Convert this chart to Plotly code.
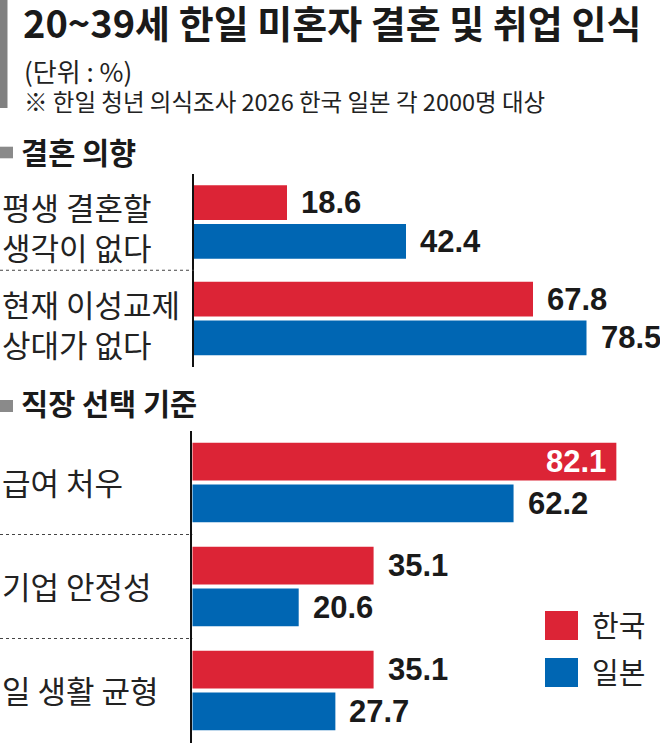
import plotly.graph_objects as go

# ---------------- data ----------------
title_text = "20~39세 한일 미혼자 결혼 및 취업 인식"
unit_text = "(단위 : %)"
note_text = "※ 한일 청년 의식조사 2026 한국 일본 각 2000명 대상"
section_titles = ["결혼 의향", "직장 선택 기준"]
series_names = ["한국", "일본"]

marriage_cats = ["평생 결혼할\n생각이 없다", "현재 이성교제\n상대가 없다"]
marriage_korea = [18.6, 67.8]
marriage_japan = [42.4, 78.5]

job_cats = ["급여 처우", "기업 안정성", "일 생활 균형"]
job_korea = [82.1, 35.1, 35.1]
job_japan = [62.2, 20.6, 27.7]

# ---------------- style ----------------
W, H = 660, 743
COLORS = ["#DC2436", "#0066B3"]
KFONT = "Noto Sans CJK KR"
NFONT = "Liberation Sans, Arial, sans-serif"
BARGAP = 0.197
BARGROUPGAP = 0.1


def px(v):
    return v / W


def py(v):
    return 1 - v / H


panels = [
    dict(cats=marriage_cats, data=[marriage_korea, marriage_japan], xa="x", ya="y",
         x0=194.0, top=173.75, bottom=366.75, scale=5.0,
         header=section_titles[0], header_y=151.0, sq=(146.7, 158.3)),
    dict(cats=job_cats, data=[job_korea, job_japan], xa="x2", ya="y2",
         x0=192.3, top=430.5, bottom=742.5, scale=5.165,
         header=section_titles[1], header_y=402.0, sq=(400.0, 412.0)),
]

fig = go.Figure()
annotations = []
shapes = []
layout_axes = {}

for pi, p in enumerate(panels):
    cats = p["cats"]
    ncat = len(cats)
    ntr = len(p["data"])
    xr = (W - p["x0"]) / p["scale"]
    for ti, vals in enumerate(p["data"]):
        fig.add_trace(go.Bar(
            x=vals, y=cats, orientation="h", name=series_names[ti],
            marker=dict(color=COLORS[ti], line=dict(width=0)),
            xaxis=p["xa"], yaxis=p["ya"], showlegend=False, hoverinfo="skip",
        ))

    sfx = "" if pi == 0 else str(pi + 1)
    layout_axes["xaxis" + sfx] = dict(
        domain=[px(p["x0"]), 1], range=[0, xr], visible=False,
        anchor=p["ya"], fixedrange=True)
    layout_axes["yaxis" + sfx] = dict(
        domain=[py(p["bottom"]), py(p["top"])], type="category",
        categoryorder="array", categoryarray=cats,
        range=[ncat - 0.5, -0.5], showline=True, linecolor="#111111",
        linewidth=1.5, showticklabels=False, showgrid=False, zeroline=False,
        ticks="", anchor=p["xa"], fixedrange=True)

    # value labels
    slot = (p["bottom"] - p["top"]) / ncat
    per_trace = slot * (1 - BARGAP) / ntr
    for ti, vals in enumerate(p["data"]):
        yshift = -(ti - (ntr - 1) / 2) * per_trace
        for cat, v in zip(cats, vals):
            inside = v / xr > 0.88
            annotations.append(dict(
                x=v, y=cat, xref=p["xa"], yref=p["ya"], text=f"{v:.1f}",
                showarrow=False, xanchor="right" if inside else "left",
                xshift=-8 if inside else 12, yshift=yshift, yanchor="middle",
                font=dict(family=NFONT, size=31, weight=700,
                          color="#ffffff" if inside else "#1a1a1a")))

    # category labels (left aligned, multi-line via <br>)
    for cat in cats:
        lines = cat.split("\n")
        n = len(lines)
        block_shift = 6.0 if n > 1 else 0.0
        annotations.append(dict(
            x=0, y=cat, xref="paper", yref=p["ya"], text="<br>".join(lines),
            showarrow=False, xanchor="left", yanchor="middle", align="left",
            yshift=-block_shift + 1.5,
            font=dict(family=KFONT, size=31, color="#222222")))

    # dashed separators
    for i in range(ncat - 1):
        shapes.append(dict(type="line", xref="paper", yref=p["ya"],
                           x0=0, x1=px(p["x0"]), y0=i + 0.5, y1=i + 0.5,
                           line=dict(color="#444444", width=1, dash="3px,3px")))

    # section header
    shapes.append(dict(type="rect", xref="paper", yref="paper",
                       x0=0, x1=px(13), y0=py(p["sq"][1]), y1=py(p["sq"][0]),
                       fillcolor="#8a8a8a", line=dict(width=0)))
    annotations.append(dict(
        x=px(19), y=py(p["header_y"]), xref="paper", yref="paper",
        text=p["header"], showarrow=False, xanchor="left", yanchor="middle",
        font=dict(family=KFONT, size=29.5, weight=700, color="#1a1a1a")))

# title block
shapes.append(dict(type="rect", xref="paper", yref="paper",
                   x0=0, x1=px(7.5), y0=py(108), y1=1,
                   fillcolor="#808080", line=dict(width=0)))
annotations.append(dict(x=px(21), y=py(21.5), xref="paper", yref="paper",
                        text=title_text, showarrow=False, xanchor="left",
                        yanchor="middle",
                        font=dict(family=KFONT, size=38, weight=700, color="#1a1a1a")))
annotations.append(dict(x=px(22), y=py(70.5), xref="paper", yref="paper",
                        text=unit_text, showarrow=False, xanchor="left",
                        yanchor="middle",
                        font=dict(family=KFONT, size=26, color="#222222")))
annotations.append(dict(x=px(22), y=py(101), xref="paper", yref="paper",
                        text=note_text, showarrow=False, xanchor="left",
                        yanchor="middle",
                        font=dict(family=KFONT, size=23.5, color="#222222")))

# legend (manual)
legend_rows = [(611, 640), (658, 687)]
for i, name in enumerate(series_names):
    t, b = legend_rows[i]
    shapes.append(dict(type="rect", xref="paper", yref="paper",
                       x0=px(545), x1=px(578), y0=py(b), y1=py(t),
                       fillcolor=COLORS[i], line=dict(width=0)))
    annotations.append(dict(x=px(590), y=py((t + b) / 2 - 1.5), xref="paper",
                            yref="paper", text=name, showarrow=False,
                            xanchor="left", yanchor="middle",
                            font=dict(family=KFONT, size=29, color="#222222")))

fig.update_layout(
    width=W, height=H, margin=dict(l=0, r=0, t=0, b=0),
    paper_bgcolor="white", plot_bgcolor="white",
    barmode="group", bargap=BARGAP, bargroupgap=BARGROUPGAP,
    showlegend=False, annotations=annotations, shapes=shapes,
    **layout_axes,
)

fig.write_html("out.html", config={"displayModeBar": False},
               post_script="document.body.style.margin='0px';"
                           "document.body.style.overflow='hidden';")
